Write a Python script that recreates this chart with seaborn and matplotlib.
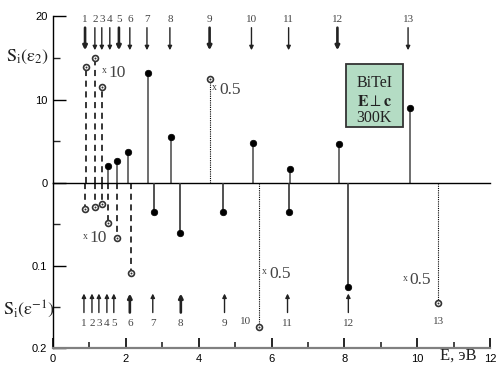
import numpy as np
import pandas as pd
import matplotlib
matplotlib.use("Agg")
import matplotlib.pyplot as plt
from matplotlib.patches import Rectangle
import seaborn as sns

# ---------------- data ----------------
top_arrow_E = [0.88, 1.15, 1.34, 1.56, 1.81, 2.11, 2.58, 3.21, 4.30, 5.45, 6.47, 7.81, 9.75]
top_arrow_lab = ["1", "2", "3", "4", "5", "6", "7", "8", "9", "10", "11", "12", "13"]
top_arrow_thick = [1, 0, 0, 0, 1, 0, 0, 0, 1, 0, 0, 1, 0]

bot_arrow_E = [0.85, 1.07, 1.26, 1.48, 1.67, 2.11, 2.74, 3.51, 4.71, 6.44, 8.11]
bot_arrow_lab = ["1", "2", "3", "4", "5", "6", "7", "8", "9", "11", "12"]
bot_arrow_thick = [0, 0, 0, 0, 0, 1, 0, 1, 0, 0, 0]
bot_extra_E = [5.30, 10.58]
bot_extra_lab = ["10", "13"]

e2_E = [1.51, 1.75, 2.05, 2.60, 3.23, 5.48, 6.52, 7.84, 9.81]
e2_S = [2.0, 2.6, 3.7, 13.2, 5.5, 4.8, 1.7, 4.7, 9.0]
e2x10_E = [0.90, 1.15, 1.34]
e2x10_S = [13.9, 15.0, 11.5]
e2x05_E = [4.30]
e2x05_S = [12.4]

einv_E = [2.77, 3.49, 4.68, 6.49, 8.11]
einv_S = [0.035, 0.061, 0.035, 0.035, 0.126]
einvx10_E = [0.88, 1.15, 1.34, 1.51, 1.75, 2.14]
einvx10_S = [0.032, 0.029, 0.026, 0.049, 0.067, 0.109]
einvx05_E = [5.67, 10.58]
einvx05_S = [0.174, 0.145]

# ---------------- style ----------------
sns.set_theme(style="ticks")
plt.rcParams["font.family"] = ["Liberation Sans", "DejaVu Sans"]
plt.rcParams["mathtext.fontset"] = "stix"
SERIF = ["Liberation Serif", "DejaVu Serif"]

W, H = 497, 365
fig = plt.figure(figsize=(W / 100, H / 100), dpi=100)
ax_t = fig.add_axes([53 / W, 1 - 183 / H, 437 / W, 167 / H])
ax_b = fig.add_axes([53 / W, 1 - 348 / H, 437 / W, 165 / H])

for ax in (ax_t, ax_b):
    ax.set_xlim(0, 12)
    ax.set_facecolor("none")
    ax.spines["top"].set_visible(False)
    ax.spines["right"].set_visible(False)
    ax.spines["left"].set_color("black")
    ax.spines["left"].set_linewidth(1.0)
    ax.tick_params(axis="y", which="major", direction="in", length=9, width=1.0,
                   labelsize=8, colors="black", pad=4)
    ax.tick_params(axis="y", which="minor", direction="in", length=5, width=1.0)

# top axis
ax_t.set_ylim(0, 20)
ax_t.set_yticks([0, 10, 20])
ax_t.set_yticklabels(["0", "10", "20"])
ax_t.set_yticks([5, 15], minor=True)
ax_t.spines["bottom"].set_color("black")
ax_t.spines["bottom"].set_linewidth(1.0)
ax_t.tick_params(axis="x", which="both", bottom=False, labelbottom=False)

# bottom axis (inverted)
ax_b.set_ylim(0.2, 0)
ax_b.set_yticks([0.1, 0.2])
ax_b.set_yticklabels(["0.1", "0.2"])
ax_b.set_yticks([0.05, 0.15], minor=True)
ax_b.spines["bottom"].set_color("#808080")
ax_b.spines["bottom"].set_linewidth(1.6)
ax_b.set_xticks([0, 2, 4, 6, 8, 10, 12])
ax_b.set_xticks([1, 3, 5, 7, 9, 11], minor=True)
ax_b.tick_params(axis="x", which="major", direction="in", length=7, width=1.2,
                 labelsize=8, colors="black", pad=4)
ax_b.tick_params(axis="x", which="minor", direction="in", length=4, width=1.2)

# ---------------- stems ----------------
ax_t.vlines(e2_E, 0, e2_S, colors="#555555", lw=1.2)
ax_t.vlines(e2x10_E, 0, e2x10_S, colors="black", lw=1.1, linestyles=(0, (4, 3)))
ax_t.vlines(e2x05_E, 0, e2x05_S, colors="black", lw=0.8, linestyles=(0, (1, 1)))
ax_b.vlines(einv_E, 0, einv_S, colors="#333333", lw=1.2)
ax_b.vlines(einvx10_E, 0, einvx10_S, colors="black", lw=1.1, linestyles=(0, (4, 3)))
ax_b.vlines(einvx05_E, 0, einvx05_S, colors="black", lw=0.8, linestyles=(0, (1, 1)))

# ---------------- markers ----------------
def filled(ax, E, S):
    sns.scatterplot(x=E, y=S, ax=ax, color="black", s=22, edgecolor="black",
                    linewidth=0.5, zorder=5, clip_on=False, legend=False)

def opened(ax, E, S):
    sns.scatterplot(x=E, y=S, ax=ax, color="white", s=18, edgecolor="#333333",
                    linewidth=1.2, zorder=5, clip_on=False, legend=False)
    sns.scatterplot(x=E, y=S, ax=ax, color="#333333", s=2, linewidth=0,
                    zorder=6, clip_on=False, legend=False)

filled(ax_t, e2_E, e2_S)
opened(ax_t, e2x10_E, e2x10_S)
opened(ax_t, e2x05_E, e2x05_S)
filled(ax_b, einv_E, einv_S)
opened(ax_b, einvx10_E, einvx10_S)
opened(ax_b, einvx05_E, einvx05_S)

# ---------------- arrows ----------------
for E, lab, th in zip(top_arrow_E, top_arrow_lab, top_arrow_thick):
    ax_t.annotate("", xy=(E, 15.9), xytext=(E, 18.6), annotation_clip=False,
                  arrowprops=dict(arrowstyle="-|>", color="#222222",
                                  lw=1.9 if th else 1.0, mutation_scale=6,
                                  shrinkA=0, shrinkB=0))
    ax_t.text(E, 19.6, lab, ha="center", va="center", fontsize=8,
              family=SERIF, color="#444444", clip_on=False)

for E, lab, th in zip(bot_arrow_E, bot_arrow_lab, bot_arrow_thick):
    ax_b.annotate("", xy=(E, 0.134), xytext=(E, 0.157), annotation_clip=False,
                  arrowprops=dict(arrowstyle="-|>", color="#222222",
                                  lw=1.9 if th else 1.0, mutation_scale=6,
                                  shrinkA=0, shrinkB=0))
    ax_b.text(E, 0.170, lab, ha="center", va="center", fontsize=8,
              family=SERIF, color="#444444", clip_on=False)
for E, lab in zip(bot_extra_E, bot_extra_lab):
    ax_b.text(E, 0.168, lab, ha="center", va="center", fontsize=8,
              family=SERIF, color="#444444", clip_on=False)

# ---------------- scale annotations ----------------
def scale_text(ax, x, y, num, dy):
    ax.text(x, y + dy, "x", ha="center", va="baseline", fontsize=7,
            family=SERIF, color="#444444")
    ax.text(x + 0.12, y, num, ha="left", va="baseline", fontsize=12.5,
            family=SERIF, color="#444444")

scale_text(ax_t, 1.40, 12.7, "10", 0.45)
scale_text(ax_t, 4.44, 10.7, "0.5", 0.45)
scale_text(ax_b, 0.88, 0.072, "10", -0.0045)
scale_text(ax_b, 5.81, 0.115, "0.5", -0.0045)
scale_text(ax_b, 9.67, 0.123, "0.5", -0.0045)

# ---------------- sample box ----------------
ax_t.add_patch(Rectangle((8.04, 6.71), 1.56, 7.54, facecolor="#b4dcc4",
                         edgecolor="#333333", lw=1.3, zorder=3))
ax_t.text(8.82, 12.0, "BiTeI", ha="center", va="center", fontsize=11.5,
          family=SERIF, color="#222222", zorder=4)
ax_t.text(8.82, 9.75, r"$\mathbf{E}\perp\mathbf{c}$", ha="center", va="center",
          fontsize=11.5, color="#222222", zorder=4)
ax_t.text(8.82, 7.8, "300K", ha="center", va="center", fontsize=11.5,
          family=SERIF, color="#222222", zorder=4)

# ---------------- axis titles ----------------
fig.text(28 / W, 1 - 57 / H, r"$\mathrm{S_i(\varepsilon_2)}$", ha="center",
         va="center", fontsize=13, color="#222222")
fig.text(29 / W, 1 - 309 / H, r"$\mathrm{S_i(\varepsilon^{-1})}$", ha="center",
         va="center", fontsize=13, color="#222222")
fig.text(458 / W, 1 - 364 / H, "E, эВ", ha="center", va="bottom", fontsize=12,
         family=SERIF, color="#222222")

fig.savefig("out.png", dpi=100)
